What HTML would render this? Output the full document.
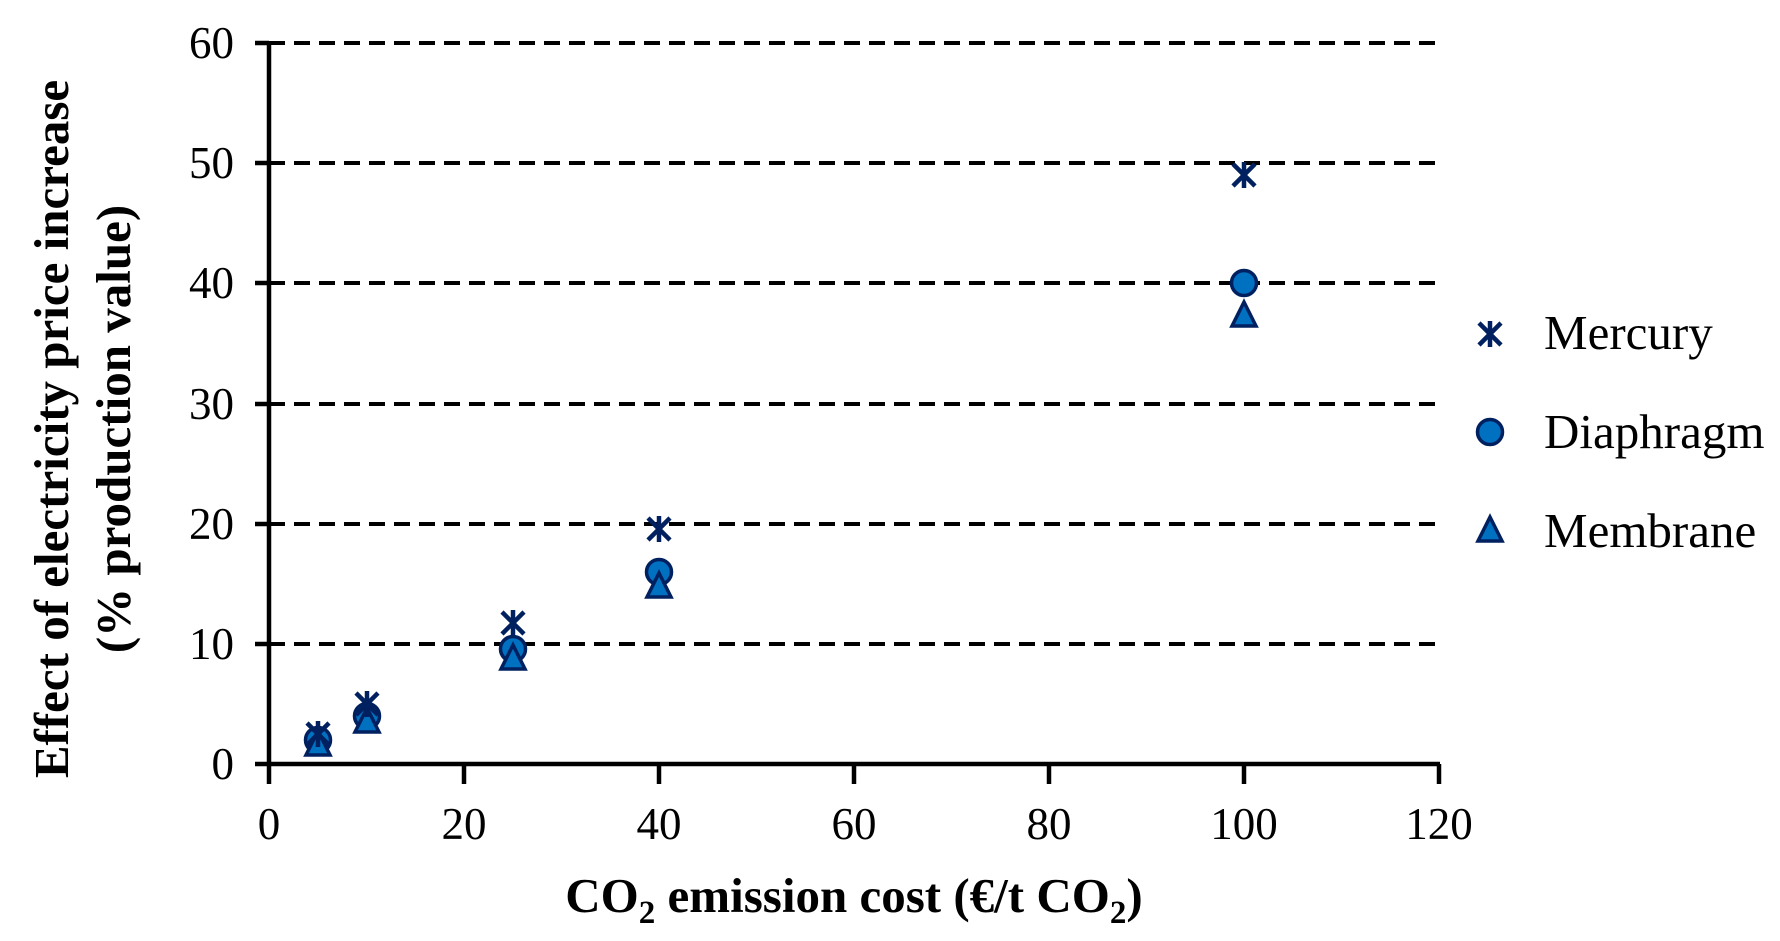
<!DOCTYPE html>
<html><head><meta charset="utf-8"><style>body{margin:0;background:#fff}</style></head><body>
<svg width="1780" height="936" xmlns="http://www.w3.org/2000/svg" font-family="Liberation Serif, serif">
<rect width="1780" height="936" fill="#fff"/>
<g stroke="#000" stroke-width="4" stroke-dasharray="16,9">
<line x1="269" y1="43" x2="1440" y2="43"/>
<line x1="269" y1="163" x2="1440" y2="163"/>
<line x1="269" y1="283" x2="1440" y2="283"/>
<line x1="269" y1="404" x2="1440" y2="404"/>
<line x1="269" y1="524" x2="1440" y2="524"/>
<line x1="269" y1="644" x2="1440" y2="644"/>
</g>
<g stroke="#000" stroke-width="4.5">
<line x1="269" y1="43" x2="269" y2="784"/>
<line x1="255" y1="764" x2="1440" y2="764"/>
<line x1="255" y1="43" x2="269" y2="43"/><line x1="255" y1="163" x2="269" y2="163"/><line x1="255" y1="283" x2="269" y2="283"/><line x1="255" y1="404" x2="269" y2="404"/><line x1="255" y1="524" x2="269" y2="524"/><line x1="255" y1="644" x2="269" y2="644"/>
<line x1="464" y1="764" x2="464" y2="784"/><line x1="659" y1="764" x2="659" y2="784"/><line x1="854" y1="764" x2="854" y2="784"/><line x1="1049" y1="764" x2="1049" y2="784"/><line x1="1244" y1="764" x2="1244" y2="784"/><line x1="1439" y1="764" x2="1439" y2="784"/>
</g>
<g font-size="45" text-anchor="end">
<text x="234" y="58">60</text><text x="234" y="178">50</text><text x="234" y="298">40</text><text x="234" y="419">30</text><text x="234" y="539">20</text><text x="234" y="659">10</text><text x="234" y="779">0</text>
</g>
<g font-size="45" text-anchor="middle">
<text x="269" y="839">0</text><text x="464" y="839">20</text><text x="659" y="839">40</text><text x="854" y="839">60</text><text x="1049" y="839">80</text><text x="1244" y="839">100</text><text x="1439" y="839">120</text>
</g>
<text x="854" y="912" font-size="49" font-weight="bold" text-anchor="middle">CO<tspan font-size="33" dy="11">2</tspan><tspan dy="-11"> emission cost (€/t CO</tspan><tspan font-size="33" dy="11">2</tspan><tspan dy="-11">)</tspan></text>
<g font-size="49" font-weight="bold" text-anchor="middle">
<text transform="translate(68,429) rotate(-90)">Effect of electricity price increase</text>
<text transform="translate(130,429) rotate(-90)">(% production value)</text>
</g>
<defs>
<g id="tri"><polygon points="0,-13 12,11 -12,11" fill="#0070C0" stroke="#002060" stroke-width="3.5"/></g>
<g id="cir"><circle r="12.5" fill="#0070C0" stroke="#002060" stroke-width="3.5"/></g>
<g id="ast" stroke="#002060" stroke-width="4.5"><line x1="-11" y1="-11" x2="11" y2="11"/><line x1="-11" y1="11" x2="11" y2="-11"/><line x1="0" y1="-13" x2="0" y2="13"/></g>
</defs>
<use href="#cir" x="318" y="740"/><use href="#cir" x="367" y="716"/><use href="#cir" x="513" y="649"/><use href="#cir" x="659" y="572"/><use href="#cir" x="1244" y="283"/>
<use href="#tri" x="318" y="744"/><use href="#tri" x="367" y="721"/><use href="#tri" x="513" y="658"/><use href="#tri" x="659" y="586"/><use href="#tri" x="1244" y="315"/>
<use href="#ast" x="318" y="734"/><use href="#ast" x="367" y="704"/><use href="#ast" x="513" y="623"/><use href="#ast" x="659" y="529"/><use href="#ast" x="1244" y="175"/>
<use href="#ast" x="1490" y="334"/><use href="#cir" x="1490" y="432"/><use href="#tri" x="1490" y="530"/>
<g font-size="49"><text x="1544" y="349">Mercury</text><text x="1544" y="448">Diaphragm</text><text x="1544" y="547">Membrane</text></g>
</svg>
</body></html>
